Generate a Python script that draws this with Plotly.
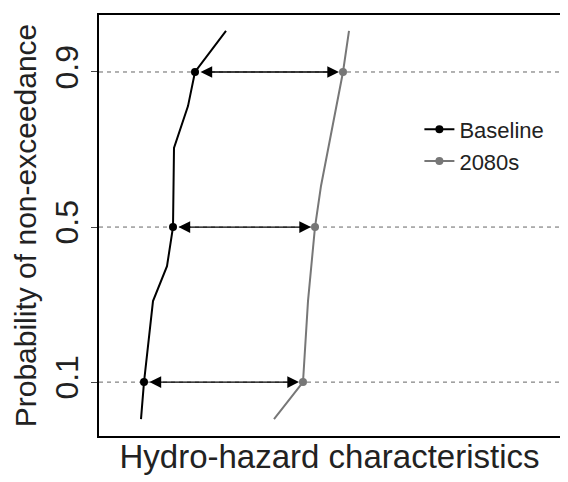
import plotly.graph_objects as go

probs_base = [0.0045, 0.1, 0.309, 0.399, 0.5, 0.704, 0.812, 0.9, 1.006]
vals_base = [42, 45, 54, 68, 74, 75, 89, 96, 127]
probs_2080 = [0.0045, 0.1, 0.309, 0.5, 0.606, 0.812, 0.9, 1.006]
vals_2080 = [175, 204, 209, 216, 222, 237, 244, 250]
marker_probs = [0.1, 0.5, 0.9]
base_marks = [45, 74, 96]
fut_marks = [204, 216, 244]
tick_vals = [0.1, 0.5, 0.9]
tick_text = ["0.1", "0.5", "0.9"]

fig = go.Figure()
fig.add_trace(go.Scatter(x=vals_base, y=probs_base, mode="lines", line=dict(color="black", width=2), showlegend=False))
fig.add_trace(go.Scatter(x=vals_2080, y=probs_2080, mode="lines", line=dict(color="#777777", width=2), showlegend=False))
fig.add_trace(go.Scatter(x=base_marks, y=marker_probs, mode="markers", marker=dict(size=8, color="black"), showlegend=False))
fig.add_trace(go.Scatter(x=fut_marks, y=marker_probs, mode="markers", marker=dict(size=8, color="#777777"), showlegend=False))
fig.add_trace(go.Scatter(x=[None], y=[None], mode="lines+markers", name="Baseline",
                         line=dict(color="black", width=2), marker=dict(size=8, color="black")))
fig.add_trace(go.Scatter(x=[None], y=[None], mode="lines+markers", name="2080s",
                         line=dict(color="#777777", width=2), marker=dict(size=8, color="#777777")))

for p in tick_vals:
    fig.add_shape(type="line", x0=0, x1=1, xref="paper", y0=p, y1=p, line=dict(color="#666666", width=1, dash="4px,4px"), layer="below")
for b, f, p in zip(base_marks, fut_marks, marker_probs):
    fig.add_annotation(x=f, y=p, ax=b, ay=p, xref="x", yref="y", axref="x", ayref="y", text="",
                       showarrow=True, arrowside="end+start", arrowhead=2, arrowsize=1.8, arrowwidth=1.3,
                       arrowcolor="black", standoff=4, startstandoff=4)

fig.update_layout(
    width=568, height=482, margin=dict(l=91, r=16, t=7, b=54, autoexpand=False),
    plot_bgcolor="white", paper_bgcolor="white",
    font=dict(family="Liberation Sans, Arial", color="#222222"),
    legend=dict(x=0.695, y=0.69, xanchor="left", yanchor="middle", font=dict(size=22), bgcolor="rgba(0,0,0,0)",
                tracegroupgap=0),
    xaxis=dict(range=[0, 461], showticklabels=False, ticks="", showgrid=False, zeroline=False, automargin=False,
               showline=True, mirror=True, linecolor="black", linewidth=1.5,
               title=dict(text="Hydro-hazard characteristics", font=dict(size=33), standoff=8)),
    yaxis=dict(range=[-0.039, 1.047], tickvals=tick_vals, ticktext=tick_text, tickangle=-90, automargin=False,
               ticks="outside", ticklen=6, tickfont=dict(size=32), showgrid=False, zeroline=False,
               showline=True, mirror=True, linecolor="black", linewidth=1.5,
               title=dict(text="Probability of non-exceedance", font=dict(size=30), standoff=4)),
)
fig.write_html("out.html")
